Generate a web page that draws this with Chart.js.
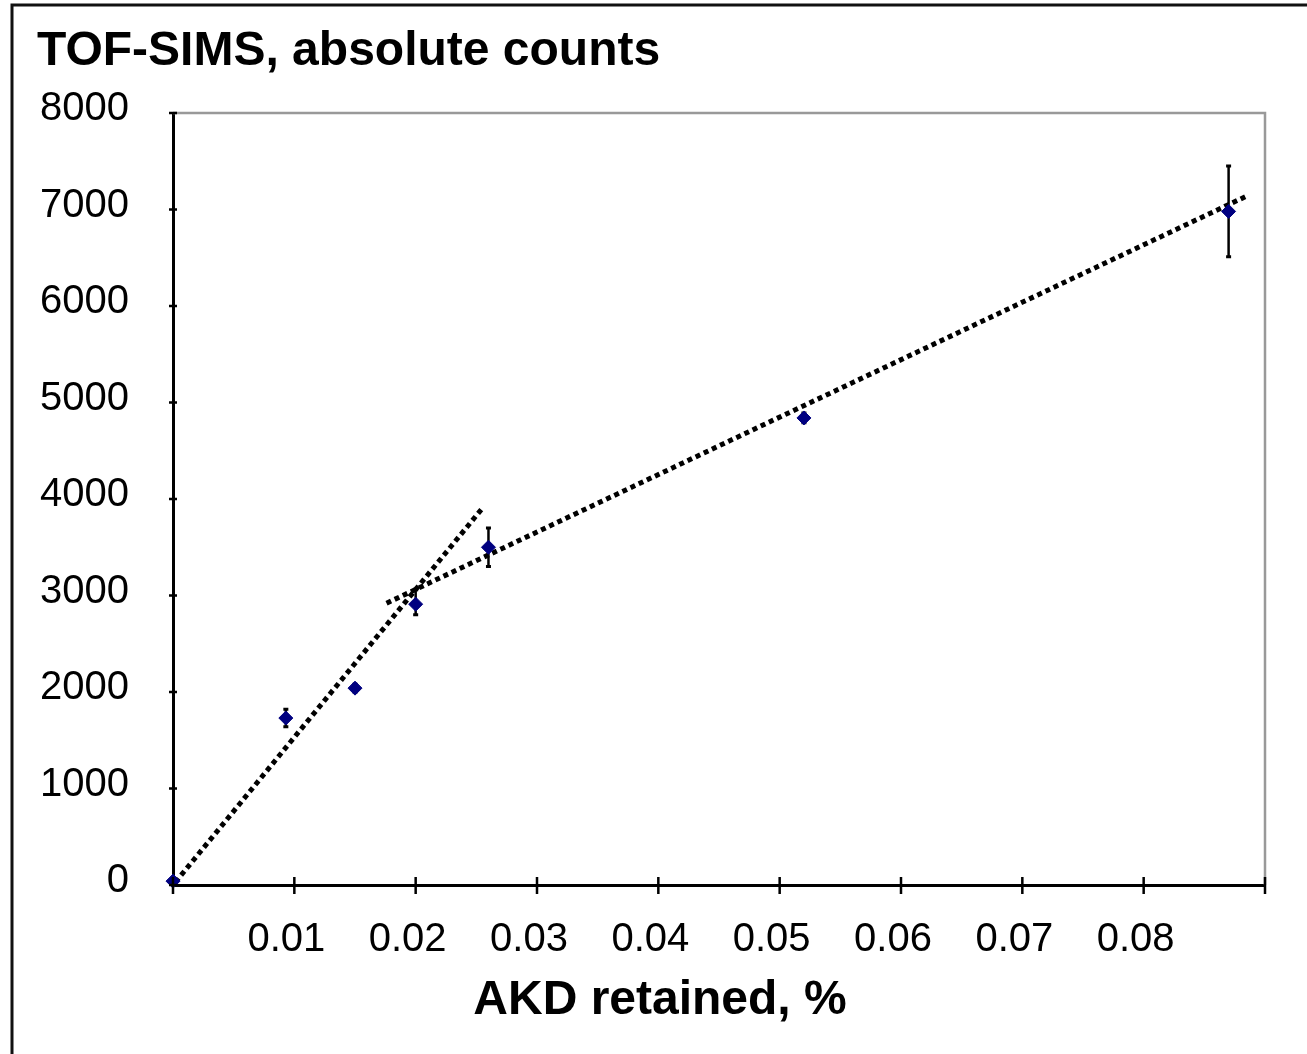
<!DOCTYPE html>
<html>
<head>
<meta charset="utf-8">
<title>TOF-SIMS, absolute counts</title>
<script src="https://cdn.jsdelivr.net/npm/chart.js@4.4.1/dist/chart.umd.min.js"></script>
<style>
  html, body { margin: 0; padding: 0; background: #fff; }
  canvas { display: block; }
</style>
</head>
<body>
<canvas id="tofChart" width="1307" height="1054"></canvas>
<script>
// AKD retained (%) against TOF-SIMS absolute counts, with error bars
const akdRetained = [0, 0.0093, 0.0150, 0.0200, 0.0260, 0.0520, 0.0870];
const absCounts   = [40, 1730, 2040, 2910, 3500, 4840, 6980];
const errPlus     = [0, 90, 40, 150, 200, 50, 470];
const errMinus    = [0, 90, 40, 110, 200, 50, 470];

// dotted fit lines (end points)
const fitLowX  = [0.0002, 0.0256];
const fitLowY  = [30, 3920];
const fitHighX = [0.0176, 0.0885];
const fitHighY = [2920, 7140];

const xTickValues = [0, 0.01, 0.02, 0.03, 0.04, 0.05, 0.06, 0.07, 0.08, 0.09];
const xTickLabels = ['', '0.01', '0.02', '0.03', '0.04', '0.05', '0.06', '0.07', '0.08', ''];
const yTickValues = [0, 1000, 2000, 3000, 4000, 5000, 6000, 7000, 8000];
const yTickLabels = ['0', '1000', '2000', '3000', '4000', '5000', '6000', '7000', '8000'];

const FONT = 'Arial, "Liberation Sans", sans-serif';

const toPoints = (xs, ys) => xs.map((x, i) => ({ x: x, y: ys[i] }));

const decorations = {
    id: 'decorations',
    beforeDatasetsDraw(chart) {
        const { ctx, chartArea: a, scales: { x, y } } = chart;
        ctx.save();
        // grey plot frame, top and right
        ctx.strokeStyle = '#999';
        ctx.lineWidth = 2.5;
        ctx.beginPath();
        ctx.moveTo(a.left, a.top);
        ctx.lineTo(a.right, a.top);
        ctx.lineTo(a.right, a.bottom);
        ctx.stroke();

        // error bars
        ctx.strokeStyle = '#000';
        akdRetained.forEach((v, i) => {
            if (!errPlus[i] && !errMinus[i]) return;
            const px = x.getPixelForValue(v);
            const top = y.getPixelForValue(absCounts[i] + errPlus[i]);
            const bot = y.getPixelForValue(absCounts[i] - errMinus[i]);
            ctx.lineWidth = 2.5;
            ctx.beginPath();
            ctx.moveTo(px, top);
            ctx.lineTo(px, bot);
            ctx.stroke();
            ctx.lineWidth = 3;
            ctx.beginPath();
            ctx.moveTo(px - 2.5, top);
            ctx.lineTo(px + 2.5, top);
            ctx.moveTo(px - 2.5, bot);
            ctx.lineTo(px + 2.5, bot);
            ctx.stroke();
        });
        ctx.restore();
    },
    afterDraw(chart) {
        const { ctx, chartArea: a, scales: { x, y } } = chart;
        ctx.save();
        // tick marks crossing the axes
        ctx.strokeStyle = '#000';
        ctx.lineWidth = 2.5;
        ctx.beginPath();
        xTickValues.forEach(v => {
            const px = x.getPixelForValue(v);
            ctx.moveTo(px, a.bottom - 8);
            ctx.lineTo(px, a.bottom + 9);
        });
        yTickValues.forEach(v => {
            const py = y.getPixelForValue(v);
            ctx.moveTo(a.left - 4, py);
            ctx.lineTo(a.left + 4, py);
        });
        ctx.stroke();

        // outer frame
        ctx.lineWidth = 3;
        ctx.strokeStyle = '#111';
        ctx.beginPath();
        ctx.moveTo(12, chart.height);
        ctx.lineTo(12, 5);
        ctx.lineTo(chart.width, 5);
        ctx.stroke();

        // titles
        ctx.fillStyle = '#000';
        ctx.font = 'bold 48px ' + FONT;
        ctx.textBaseline = 'alphabetic';
        ctx.textAlign = 'left';
        ctx.fillText('TOF-SIMS, absolute counts', 37, 65);
        ctx.textAlign = 'center';
        ctx.fillText('AKD retained, %', 660, 1014);
        ctx.restore();
    }
};

new Chart(document.getElementById('tofChart'), {
    type: 'scatter',
    data: {
        datasets: [
            {
                label: 'TOF-SIMS',
                data: toPoints(akdRetained, absCounts),
                pointStyle: 'rectRot',
                pointRadius: 7,
                backgroundColor: '#000080',
                borderColor: '#000080',
                borderWidth: 1,
                clip: false
            },
            {
                label: 'fit low',
                type: 'line',
                data: toPoints(fitLowX, fitLowY),
                borderColor: '#000',
                borderWidth: 5,
                borderDash: [5, 4],
                borderCapStyle: 'butt',
                pointRadius: 0,
                fill: false
            },
            {
                label: 'fit high',
                type: 'line',
                data: toPoints(fitHighX, fitHighY),
                borderColor: '#000',
                borderWidth: 5,
                borderDash: [5, 4],
                borderCapStyle: 'butt',
                pointRadius: 0,
                fill: false
            }
        ]
    },
    options: {
        responsive: false,
        animation: false,
        devicePixelRatio: 1,
        layout: { padding: { top: 113, right: 42, left: 0, bottom: 0 } },
        plugins: {
            legend: { display: false },
            tooltip: { enabled: false },
            title: { display: false }
        },
        scales: {
            x: {
                type: 'linear',
                min: 0,
                max: 0.09,
                afterFit: s => { s.height = 169; },
                afterBuildTicks: s => { s.ticks = xTickValues.map(v => ({ value: v })); },
                grid: { display: false },
                border: { color: '#000', width: 3 },
                ticks: {
                    padding: 23,
                    labelOffset: -8,
                    maxRotation: 0,
                    autoSkip: false,
                    color: '#000',
                    font: { family: FONT, size: 40 },
                    callback: (v, i) => xTickLabels[i]
                }
            },
            y: {
                type: 'linear',
                min: 0,
                max: 8000,
                afterFit: s => { s.width = 173; },
                afterBuildTicks: s => { s.ticks = yTickValues.map(v => ({ value: v })); },
                grid: { display: false },
                border: { color: '#000', width: 3 },
                ticks: {
                    padding: 36,
                    labelOffset: -4,
                    autoSkip: false,
                    color: '#000',
                    font: { family: FONT, size: 40 },
                    callback: (v, i) => yTickLabels[i]
                }
            }
        }
    },
    plugins: [decorations]
});
</script>
</body>
</html>
